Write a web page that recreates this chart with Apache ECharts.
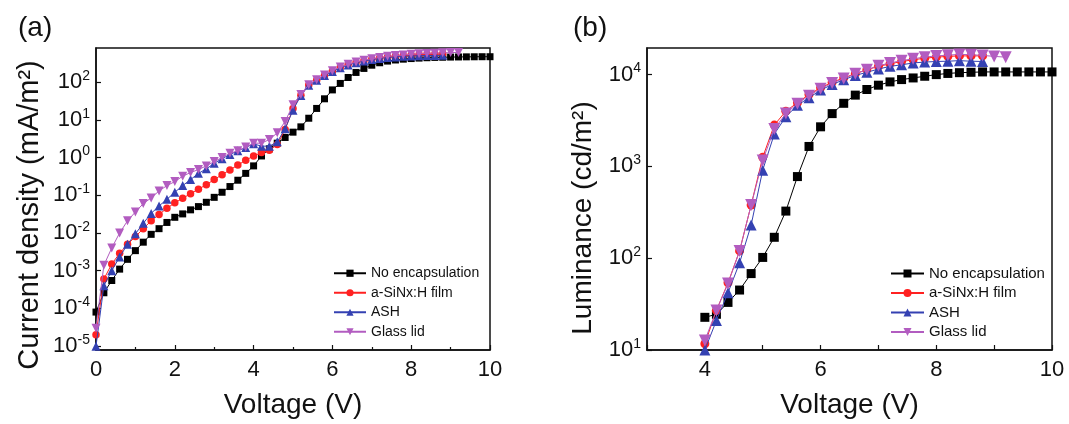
<!DOCTYPE html>
<html>
<head>
<meta charset="utf-8">
<script src="https://cdn.jsdelivr.net/npm/echarts@6/dist/echarts.min.js"></script>
<style>
html,body{margin:0;padding:0;background:#fff;}
#chart{width:1069px;height:424px;}
</style>
</head>
<body>
<div id="chart"></div>
<script>
var names = ['No encapsulation', 'a-SiNx:H film', 'ASH', 'Glass lid'];
var colors = ['#000000', '#ff2121', '#3441b2', '#b25cc0'];

// (a) current density vs voltage
var voltA = [0, 0.2, 0.4, 0.6, 0.8, 1.0, 1.2, 1.4, 1.6, 1.8, 2.0, 2.2, 2.4, 2.6, 2.8, 3.0, 3.2, 3.4, 3.6, 3.8,
	4.0, 4.2, 4.4, 4.6, 4.8, 5.0, 5.2, 5.4, 5.6, 5.8, 6.0, 6.2, 6.4, 6.6, 6.8, 7.0, 7.2, 7.4, 7.6, 7.8,
	8.0, 8.2, 8.4, 8.6, 8.8, 9.0, 9.2, 9.4, 9.6, 9.8, 10.0];
var jNoEnc = [8e-5, 2.6e-4, 5.5e-4, 1.1e-3, 2.0e-3, 3.4e-3, 5.7e-3, 9.2e-3, 1.3e-2, 1.9e-2, 2.6e-2, 3.2e-2, 4.1e-2, 5.0e-2, 6.5e-2, 8.8e-2, 0.12, 0.17, 0.25, 0.38,
	0.6, 1.1, 1.7, 2.4, 3.4, 4.7, 6.5, 11, 20, 36, 62, 92, 132, 180, 230, 280, 325, 360, 385, 405,
	420, 432, 442, 450, 455, 460, 463, 466, 468, 470, 470];
var jSiNx = [2e-5, 6e-4, 1.5e-3, 2.9e-3, 5e-3, 8e-3, 1.3e-2, 2.1e-2, 3.1e-2, 4.5e-2, 6.3e-2, 8.3e-2, 0.11, 0.145, 0.19, 0.26, 0.35, 0.47, 0.63, 0.85,
	1.1, 1.35, 1.55, 2.2, 5.5, 20, 45, 83, 112, 150, 195, 245, 290, 330, 370, 405, 435, 460, 485, 505,
	520, 535, 545, 555, 560];
var jAsh = [1e-5, 4e-4, 1e-3, 2.3e-3, 5e-3, 9.5e-3, 1.8e-2, 3.3e-2, 5.2e-2, 7.8e-2, 0.12, 0.18, 0.26, 0.38, 0.5, 0.7, 0.93, 1.2, 1.5, 1.85,
	2.3, 2.0, 2.0, 2.6, 5.8, 18, 44, 82, 112, 150, 192, 240, 285, 325, 360, 395, 420, 445, 465, 480,
	492, 500, 505, 510, 512];
var jGlass = [3e-5, 1.4e-3, 4e-3, 1e-2, 2.1e-2, 3.6e-2, 6e-2, 8.5e-2, 0.13, 0.18, 0.23, 0.32, 0.4, 0.48, 0.6, 0.78, 1.0, 1.3, 1.5, 1.9,
	2.4, 2.4, 3.0, 4.5, 9, 25, 47, 85, 115, 155, 200, 250, 295, 340, 380, 415, 450, 480, 505, 525,
	545, 560, 575, 585, 595, 605, 610];

// (b) luminance vs voltage
var voltB = [4.0, 4.2, 4.4, 4.6, 4.8, 5.0, 5.2, 5.4, 5.6, 5.8, 6.0, 6.2, 6.4, 6.6, 6.8, 7.0, 7.2, 7.4, 7.6, 7.8,
	8.0, 8.2, 8.4, 8.6, 8.8, 9.0, 9.2, 9.4, 9.6, 9.8, 10.0];
var lNoEnc = [22.7, 24.5, 33, 45, 68, 102, 169, 326, 775, 1650, 2700, 3760, 4870, 5980, 6890, 7670, 8330, 8830, 9200, 9600,
	10000, 10300, 10500, 10600, 10700, 10700, 10700, 10700, 10700, 10700, 10700];
var lSiNx = [11.7, 27, 54, 120, 380, 1260, 2820, 4000, 4940, 6080, 7180, 8260, 9200, 10250, 11300, 12300, 13100, 13900, 14500, 15100,
	15500, 15800, 16000, 16000, 16000];
var lAsh = [10, 21, 42, 89, 230, 910, 2250, 3480, 4630, 5600, 6780, 7800, 8800, 9800, 10600, 11500, 12300, 12800, 13400, 13700,
	13900, 14000, 14200, 14000, 13900];
var lGlass = [12.7, 27, 53, 120, 380, 1160, 2560, 3770, 4810, 5900, 7000, 8100, 9050, 10200, 11300, 12500, 13400, 14200, 14900, 15500,
	16000, 16300, 16600, 16500, 16200, 15800, 15500];

var font = 'Liberation Sans, Arial, sans-serif';
var ink = '#111';
var symbols = ['rect', 'circle', 'triangle', 'path://M0,0L10,0L5,9Z'];

var pairs = function(xs, ys) {
	return ys.map(function(y, i) { return [xs[i], y]; });
};

// 10^n labels, nothing at the axis ends
var powLabel = function(v) {
	var lg = Math.log(v) / Math.LN10;
	var e = Math.round(lg);
	if (Math.abs(lg - e) > 0.001) return '';
	return '{b|10}{s|' + e + '}';
};
var powRich = {
	b: {fontSize: 22, fontFamily: font, color: ink, lineHeight: 26},
	s: {fontSize: 14, fontFamily: font, color: ink, lineHeight: 14, verticalAlign: 'top'}
};

var makeSeries = function(idx, xs, list, sizes) {
	return list.map(function(ys, i) {
		return {
			name: names[i],
			type: 'line',
			xAxisIndex: idx,
			yAxisIndex: idx,
			data: pairs(xs, ys),
			symbol: symbols[i],
			symbolSize: sizes[i],
			showAllSymbol: true,
			clip: false,
			itemStyle: {color: colors[i], opacity: 1},
			lineStyle: {color: colors[i], width: 1},
			z: 2 + i
		};
	});
};

var axisCommon = {
	axisLine: {show: true, lineStyle: {color: ink, width: 1.5}},
	axisTick: {show: true, inside: true, length: 5, lineStyle: {color: ink, width: 1.2}},
	splitLine: {show: false}
};
var nameStyle = {fontSize: 28, fontFamily: font, color: ink};
var tickFont = {fontSize: 22, fontFamily: font, color: ink, margin: 9};

var myChart = echarts.init(document.getElementById('chart'));
var option = {
	backgroundColor: '#fff',
	animation: false,
	title: [
		{text: '(a)', left: 18, top: 14, padding: 0, textStyle: {fontSize: 28, fontWeight: 'normal', fontFamily: font, color: ink}},
		{text: '(b)', left: 573, top: 14, padding: 0, textStyle: {fontSize: 28, fontWeight: 'normal', fontFamily: font, color: ink}}
	],
	grid: [
		{left: 96, top: 48, width: 394, height: 304, show: true, borderColor: ink, borderWidth: 1.5},
		{left: 647, top: 48, width: 405, height: 305, show: true, borderColor: ink, borderWidth: 1.5}
	],
	legend: [
		{left: 333, top: 266, padding: 0, orient: 'vertical', itemWidth: 32, itemHeight: 9, itemGap: 5, data: names,
			textStyle: {fontSize: 14, fontFamily: font, color: ink, lineHeight: 14.5}},
		{left: 890, top: 266, padding: 0, orient: 'vertical', itemWidth: 33, itemHeight: 10, itemGap: 4.5, data: names,
			textStyle: {fontSize: 15, fontFamily: font, color: ink, lineHeight: 15}}
	],
	xAxis: [
		Object.assign({}, axisCommon, {
			gridIndex: 0, type: 'value', min: 0, max: 10, interval: 2,
			minorTick: {show: true, splitNumber: 2, length: 3, lineStyle: {color: ink, width: 1.2}},
			axisLabel: tickFont,
			name: 'Voltage (V)', nameLocation: 'middle', nameGap: 41, nameTextStyle: nameStyle
		}),
		Object.assign({}, axisCommon, {
			gridIndex: 1, type: 'value', min: 3, max: 10, interval: 1,
			axisLabel: Object.assign({}, tickFont, {
				formatter: function(v) { return v % 2 === 0 ? String(v) : ''; }}),
			name: 'Voltage (V)', nameLocation: 'middle', nameGap: 41, nameTextStyle: nameStyle
		})
	],
	yAxis: [
		Object.assign({}, axisCommon, {
			gridIndex: 0, type: 'log', min: 7.9e-6, max: 800, logBase: 10,
			axisLabel: {formatter: powLabel, rich: powRich, margin: 6, showMinLabel: false, showMaxLabel: false},
			name: 'Current density (mA/m²)', nameLocation: 'middle', nameGap: 52,
			nameTextStyle: Object.assign({}, nameStyle, {fontSize: 29, padding: [0, 32, 0, 0]})
		}),
		Object.assign({}, axisCommon, {
			gridIndex: 1, type: 'log', min: 10, max: 19500, logBase: 10,
			axisLabel: {formatter: powLabel, rich: powRich, margin: 6, showMaxLabel: false},
			name: 'Luminance (cd/m²)', nameLocation: 'middle', nameGap: 50,
			nameTextStyle: Object.assign({}, nameStyle, {padding: [0, 38, 0, 0]})
		})
	],
	series: makeSeries(0, voltA, [jNoEnc, jSiNx, jAsh, jGlass], [7, 7.5, 9, 9])
		.concat(makeSeries(1, voltB, [lNoEnc, lSiNx, lAsh, lGlass], [9, 9, 11, 12]))
};
myChart.setOption(option);
</script>
</body>
</html>
